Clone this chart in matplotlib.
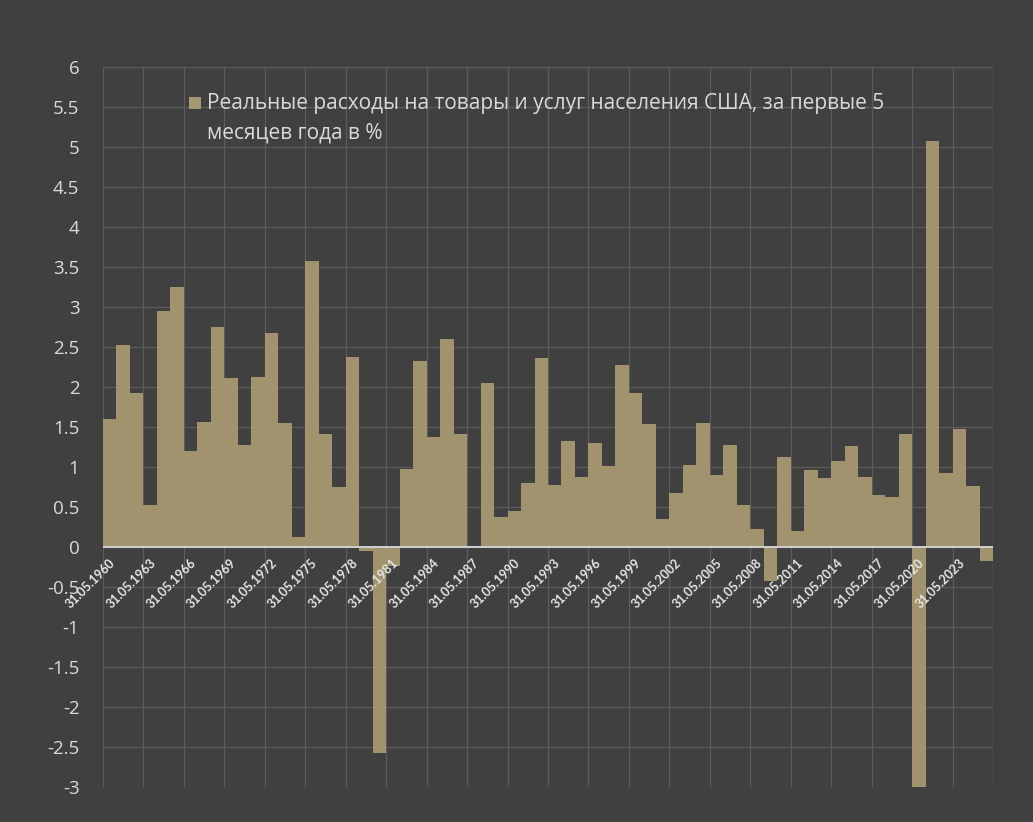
import numpy as np
import matplotlib
matplotlib.use("Agg")
import matplotlib.pyplot as plt
from matplotlib.patches import Rectangle

years = list(range(1960, 2026))
values = [
    1.60, 2.53, 1.93, 0.53, 2.95, 3.25, 1.20, 1.56, 2.75, 2.11,
    1.27, 2.13, 2.68, 1.55, 0.13, 3.58, 1.41, 0.75, 2.38, -0.05,
    -2.58, -0.24, 0.97, 2.33, 1.38, 2.60, 1.41, 0.00, 2.05, 0.38,
    0.45, 0.80, 2.36, 0.78, 1.32, 0.88, 1.30, 1.01, 2.27, 1.93,
    1.54, 0.35, 0.67, 1.02, 1.55, 0.90, 1.28, 0.52, 0.23, -0.43,
    1.12, 0.20, 0.96, 0.86, 1.07, 1.26, 0.88, 0.65, 0.62, 1.41,
    -3.00, 5.07, 0.93, 1.48, 0.76, -0.18,
]
tick_years = years[::3]
tick_labels = [f"31.05.{y}" for y in tick_years]
legend_label = "Реальные расходы на товары и услуг населения США, за первые 5"
legend_label2 = "месяцев года в %"

bg = "#404040"
bar_color = "#a69871"
grid_color = "#5c5c5c"
text_color = "#d9d9d9"

fig = plt.figure(figsize=(10.33, 8.22), dpi=100)
fig.patch.set_facecolor(bg)
ax = fig.add_axes([103 / 1033, 35 / 822, 890 / 1033, 720 / 822])
ax.set_facecolor(bg)

x = np.arange(len(years))
ax.bar(x, values, width=1.0, color=bar_color, alpha=0.95, zorder=3, linewidth=0)

ax.set_xlim(-0.5, len(years) - 0.5)
ax.set_ylim(-3, 6)
yt = np.arange(-3, 6.01, 0.5)
ax.set_yticks(yt)
ax.set_yticklabels([f"{v:g}" for v in yt], fontsize=13.5, color=text_color,
                   family=["Open Sans", "DejaVu Sans"])
ax.tick_params(axis="y", length=0, pad=17)

# vertical grid at category boundaries every 3 years
ax.set_xticks(np.arange(-0.5, len(years), 3))
ax.set_xticklabels([])
ax.tick_params(axis="x", length=0)
ax.grid(True, color=grid_color, linewidth=0.9, zorder=0)
ax.set_axisbelow(True)
for s in ax.spines.values():
    s.set_visible(False)
ax.axvline(len(years) - 0.5, color=grid_color, linewidth=0.9, zorder=0)
ax.axhline(0, color="#d0d0d0", linewidth=1.4, zorder=4)

for yr, lab in zip(tick_years, tick_labels):
    i = years.index(yr)
    ax.text(i + 0.25, -0.17, lab, rotation=45, ha="right", va="center",
            rotation_mode="anchor", fontsize=9, fontweight="bold",
            color="#e6e6e6", family=["Lato", "DejaVu Sans"], zorder=5)

# legend
fig.patches.append(Rectangle((189 / 1033, 1 - 109 / 822), 12 / 1033, 12 / 822,
                             transform=fig.transFigure, facecolor=bar_color,
                             edgecolor="none"))
fig.text(207 / 1033, 1 - 103 / 822, legend_label, fontsize=15, color=text_color,
         va="center", ha="left", family=["Open Sans", "DejaVu Sans"])
fig.text(207 / 1033, 1 - 133 / 822, legend_label2, fontsize=15, color=text_color,
         va="center", ha="left", family=["Open Sans", "DejaVu Sans"])

fig.savefig("out.png", dpi=100, facecolor=bg)
plt.close(fig)
